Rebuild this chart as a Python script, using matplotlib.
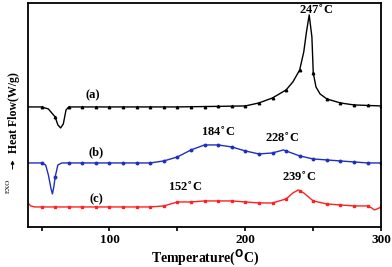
import matplotlib
matplotlib.use("Agg")
import matplotlib.pyplot as plt
from matplotlib.ticker import MultipleLocator
import numpy as np

plt.rcParams["font.family"] = ["Liberation Serif", "DejaVu Serif"]
plt.rcParams["font.weight"] = "bold"

# curve (a): triangle markers, black
a_t = [40, 50, 55, 60, 62, 64, 66, 68, 70, 80, 100, 150, 200, 210, 220, 230, 235, 240, 243, 245, 247, 249, 250, 252, 255, 260, 270, 280, 300]
a_y = [120, 120, 118, 110, 102, 99, 103, 117, 120, 120, 120, 120, 121, 124, 129, 137, 145, 157, 175, 195, 212, 190, 154, 140, 133, 128, 124, 122, 121]

# curve (b): circle markers, blue
b_t = [40, 50, 53, 55, 57, 58, 59, 60, 62, 65, 70, 100, 130, 140, 150, 160, 170, 180, 190, 200, 210, 220, 228, 230, 240, 250, 260, 270, 280, 290, 300]
b_y = [64, 64, 62, 52, 38, 33, 40, 50, 62, 64, 64, 64, 64, 66, 70, 77, 82, 82, 80, 76, 73, 74, 77, 76, 71, 68, 67, 66, 65, 64, 64]

# curve (c): square markers, red
c_t = [40, 42, 45, 50, 100, 130, 140, 150, 160, 170, 180, 190, 200, 210, 220, 230, 235, 239, 243, 250, 260, 270, 280, 290, 293, 295, 297, 300]
c_y = [24, 21, 20, 20, 20, 20, 21, 25, 25, 26, 26, 26, 25, 24, 24, 28, 34, 37, 34, 26, 23, 22, 21, 21, 19, 17, 18, 20]

# marker positions (every 10 degC)
mk_t = list(range(50, 301, 10))

fig = plt.figure(figsize=(3.92, 2.67), dpi=100)
ax = fig.add_axes([0.0714, 0.150, 0.901, 0.839])

for t, y, c, m in [(a_t, a_y, "black", "^"), (b_t, b_y, "#1f2fbf", "o"), (c_t, c_y, "#ff2020", "s")]:
    ax.plot(t, y, color=c, lw=1.0)
    ax.plot(mk_t, np.interp(mk_t, t, y), ls="none", marker=m, ms=1.8, color=c)

ax.set_xlim(40, 300)
ax.set_ylim(0, 224)
ax.xaxis.set_major_locator(MultipleLocator(100))
ax.xaxis.set_minor_locator(MultipleLocator(50))
ax.tick_params(axis="x", which="both", direction="out", length=3, width=1.2, labelsize=9.5, pad=2)
ax.set_yticks([])
for s in ax.spines.values():
    s.set_linewidth(1.3)
for lab in ax.get_xticklabels():
    lab.set_fontweight("bold")

ax.set_xlabel("Temperature($\\mathbf{^{O}}$C)", fontsize=10, fontweight="bold", labelpad=1)
fig.text(0.036, 0.58, "Heat Flow(W/g)", rotation=90, fontsize=8.5, fontweight="bold", ha="center", va="center")
fig.text(0.022, 0.305, "EXO", rotation=90, fontsize=5, ha="center", va="center", fontweight="normal")
ax.annotate("", xy=(0.032, 0.41), xytext=(0.032, 0.356), xycoords="figure fraction",
            textcoords="figure fraction", annotation_clip=False,
            arrowprops=dict(arrowstyle="-|>", mutation_scale=5, lw=0.7, color="black"))

txt = dict(fontsize=9, fontweight="bold", ha="center", va="center")
ax.text(88, 132, "(a)", **txt)
ax.text(90, 75, "(b)", **txt)
ax.text(90, 28, "(c)", **txt)
ax.text(252, 217, "247$^{\\circ}$C", **txt)
ax.text(180, 95, "184$^{\\circ}$C", **txt)
ax.text(227, 89, "228$^{\\circ}$C", **txt)
ax.text(156, 40, "152$^{\\circ}$C", **txt)
ax.text(240, 50, "239$^{\\circ}$C", **txt)

fig.savefig("out.png", dpi=100)
